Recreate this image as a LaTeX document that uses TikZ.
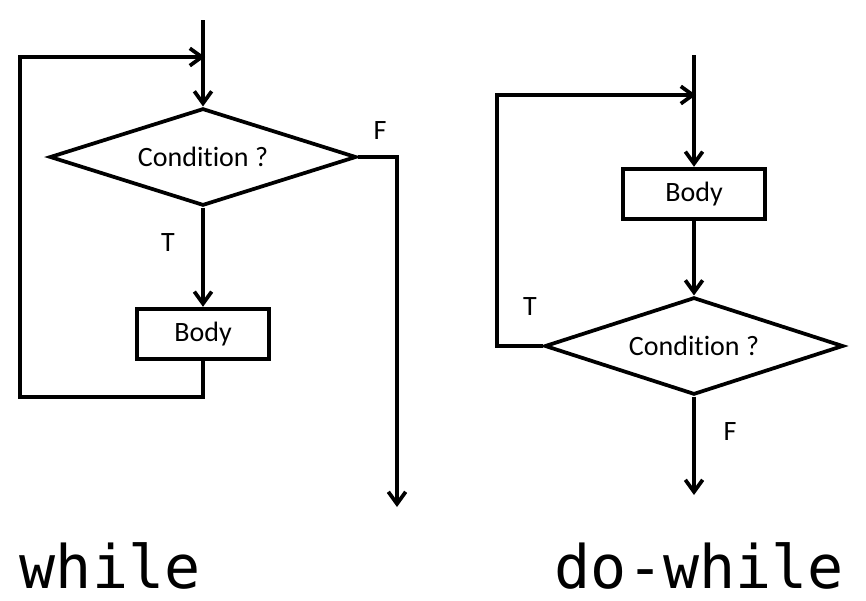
\documentclass[tikz,border=0pt]{standalone}
\usepackage{fontspec}
\setmainfont{Carlito}[Ligatures={NoCommon,NoContextual}]
\newfontfamily\codefont{DejaVu Sans Mono}
\usetikzlibrary{shapes.geometric,arrows.meta}

\tikzset{every picture/.style={line width=2.8pt}}

\begin{document}
\begin{tikzpicture}[x=0.75pt,y=0.75pt,yscale=-1,xscale=1,
  >={Straight Barb[length=9pt,width=13pt]},
  decision/.style={diamond,draw,aspect=3,inner sep=0pt,minimum height=73pt,font=\fontsize{21}{24}\selectfont},
  process/.style={rectangle,draw,inner sep=0pt,minimum height=38pt,font=\fontsize{21}{24}\selectfont},
  branch/.style={font=\fontsize{21}{24}\selectfont},
  title/.style={anchor=base west,inner sep=0pt,text depth=0pt,font=\codefont\fontsize{45}{54}\selectfont}]
				\useasboundingbox (0,0) rectangle (866,600);
				
				%while
				\node [decision,minimum width=230pt] (cond1) at (203,157) {Condition ?};
				\node [process,minimum width=99pt] (body1) at (203,334) {Body};
				\coordinate (in1) at (203,20);
				\coordinate (join1) at (205,57);
				\coordinate (loop1) at (20,397);
				\coordinate (out1) at (397,507);
				
				%Straight Lines
				\draw [->] (in1) -- (cond1.north);
				\draw [->] (cond1.south) -- (body1.north);
				\draw [->] (body1.south) |- (loop1) |- (join1);
				\draw [->] (cond1.east) -| (out1);
				
				\node [branch] (t1) at (168,243) {T};
				\node [branch] (f1) at (380,131) {F};
				
				%do-while
				\node [process,minimum width=107pt] (body2) at (694,194) {Body};
				\node [decision,minimum width=224pt] (cond2) at (694,346) {Condition ?};
				\coordinate (in2) at (694,55);
				\coordinate (join2) at (696,95);
				\coordinate (loop2) at (497,346);
				\coordinate (out2) at (694,495);
				
				%Straight Lines
				\draw [->] (in2) -- (body2.north);
				\draw [->] (body2.south) -- (cond2.north);
				\draw [->] (cond2.south) -- (out2);
				\draw [->] (cond2.west) -- (loop2) |- (join2);
				
				\node [branch] (t2) at (530,307) {T};
				\node [branch] (f2) at (730,432) {F};
				
				\node [title] (title1) at (18,588) {while};
				\node [title] (title2) at (553,588) {do-while};
\end{tikzpicture}
\end{document}
